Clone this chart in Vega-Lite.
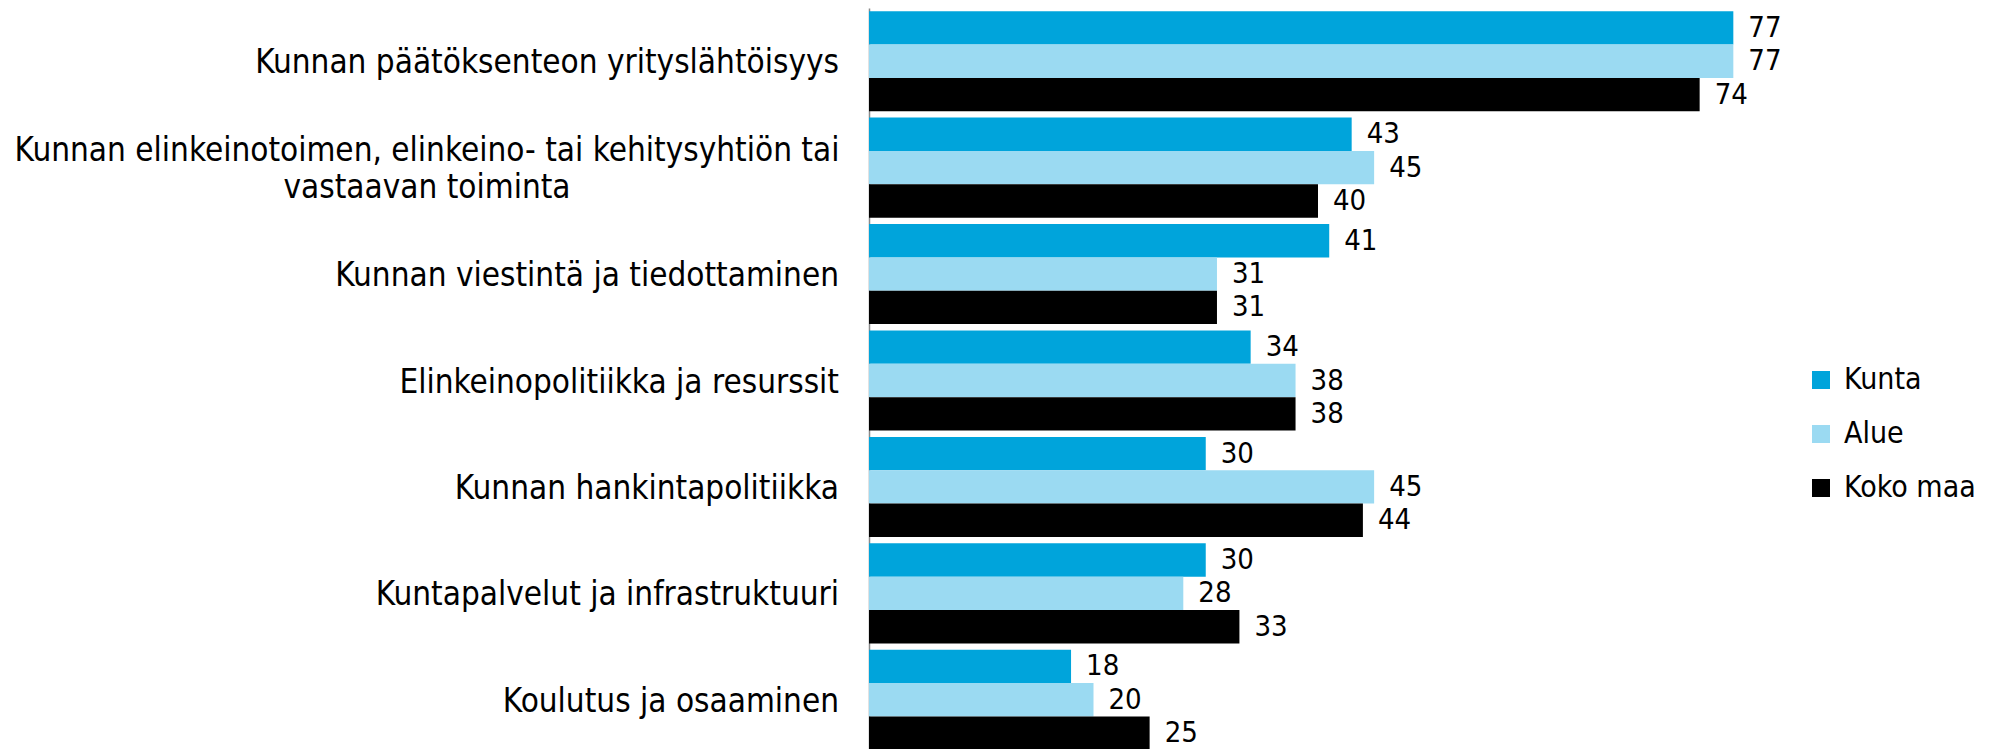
{
  "$schema": "https://vega.github.io/schema/vega-lite/v6.json",
  "autosize": {"type": "none"},
  "padding": {"left": 869, "top": 8, "right": 224, "bottom": 0},
  "width": 898,
  "height": 745,
  "background": "white",
  "config": {"view": {"stroke": null}, "font": "DejaVu Sans Condensed"},
  "data": {"values": [
    {"category": "Kunnan päätöksenteon yrityslähtöisyys", "series": "Kunta", "value": 77},
    {"category": "Kunnan päätöksenteon yrityslähtöisyys", "series": "Alue", "value": 77},
    {"category": "Kunnan päätöksenteon yrityslähtöisyys", "series": "Koko maa", "value": 74},
    {"category": "Kunnan elinkeinotoimen, elinkeino- tai kehitysyhtiön tai\nvastaavan toiminta", "series": "Kunta", "value": 43},
    {"category": "Kunnan elinkeinotoimen, elinkeino- tai kehitysyhtiön tai\nvastaavan toiminta", "series": "Alue", "value": 45},
    {"category": "Kunnan elinkeinotoimen, elinkeino- tai kehitysyhtiön tai\nvastaavan toiminta", "series": "Koko maa", "value": 40},
    {"category": "Kunnan viestintä ja tiedottaminen", "series": "Kunta", "value": 41},
    {"category": "Kunnan viestintä ja tiedottaminen", "series": "Alue", "value": 31},
    {"category": "Kunnan viestintä ja tiedottaminen", "series": "Koko maa", "value": 31},
    {"category": "Elinkeinopolitiikka ja resurssit", "series": "Kunta", "value": 34},
    {"category": "Elinkeinopolitiikka ja resurssit", "series": "Alue", "value": 38},
    {"category": "Elinkeinopolitiikka ja resurssit", "series": "Koko maa", "value": 38},
    {"category": "Kunnan hankintapolitiikka", "series": "Kunta", "value": 30},
    {"category": "Kunnan hankintapolitiikka", "series": "Alue", "value": 45},
    {"category": "Kunnan hankintapolitiikka", "series": "Koko maa", "value": 44},
    {"category": "Kuntapalvelut ja infrastruktuuri", "series": "Kunta", "value": 30},
    {"category": "Kuntapalvelut ja infrastruktuuri", "series": "Alue", "value": 28},
    {"category": "Kuntapalvelut ja infrastruktuuri", "series": "Koko maa", "value": 33},
    {"category": "Koulutus ja osaaminen", "series": "Kunta", "value": 18},
    {"category": "Koulutus ja osaaminen", "series": "Alue", "value": 20},
    {"category": "Koulutus ja osaaminen", "series": "Koko maa", "value": 25}
  ]},
  "encoding": {
    "y": {
      "field": "category", "type": "nominal", "sort": null,
      "scale": {"paddingInner": 0.06, "paddingOuter": 0.03},
      "axis": {
        "title": null, "ticks": false, "labels": false,
        "domainColor": "#8a8a8a", "domainWidth": 1.5
      }
    },
    "x": {"field": "value", "type": "quantitative", "scale": {"domain": [0, 80], "nice": false}, "axis": null}
  },
  "layer": [
    {
      "mark": {"type": "bar"},
      "encoding": {
        "yOffset": {"field": "series", "type": "nominal", "sort": ["Kunta", "Alue", "Koko maa"], "scale": {"paddingInner": 0, "paddingOuter": 0}},
        "color": {
          "field": "series", "type": "nominal",
          "scale": {"domain": ["Kunta", "Alue", "Koko maa"], "range": ["#00a4db", "#9bdaf2", "#000000"]},
          "legend": {
            "title": null, "orient": "none", "legendX": 937, "legendY": 357,
            "symbolType": "square", "symbolSize": 324, "symbolStrokeWidth": 0,
            "labelFontSize": 30, "labelColor": "black", "labelOffset": 8,
            "rowPadding": 24
          }
        }
      }
    },
    {
      "mark": {"type": "text", "align": "left", "baseline": "middle", "dx": 15, "fontSize": 29, "color": "black"},
      "encoding": {
        "yOffset": {"field": "series", "type": "nominal", "sort": ["Kunta", "Alue", "Koko maa"], "scale": {"paddingInner": 0, "paddingOuter": 0}},
        "text": {"field": "value", "type": "quantitative"}
      }
    },
    {
      "transform": [{"filter": "datum.series == 'Kunta' && indexof(datum.category, '\\n') < 0"}],
      "mark": {"type": "text", "align": "right", "baseline": "middle", "dx": -30, "dy": 2, "fontSize": 33, "color": "black"},
      "encoding": {
        "x": {"datum": 0},
        "text": {"field": "category", "type": "nominal"}
      }
    },
    {
      "transform": [{"filter": "datum.series == 'Kunta' && indexof(datum.category, '\\n') >= 0"}],
      "mark": {"type": "text", "align": "center", "baseline": "middle", "dx": -442, "dy": -17, "fontSize": 33, "lineHeight": 37, "lineBreak": "\n", "color": "black"},
      "encoding": {
        "x": {"datum": 0},
        "text": {"field": "category", "type": "nominal"}
      }
    }
  ]
}
